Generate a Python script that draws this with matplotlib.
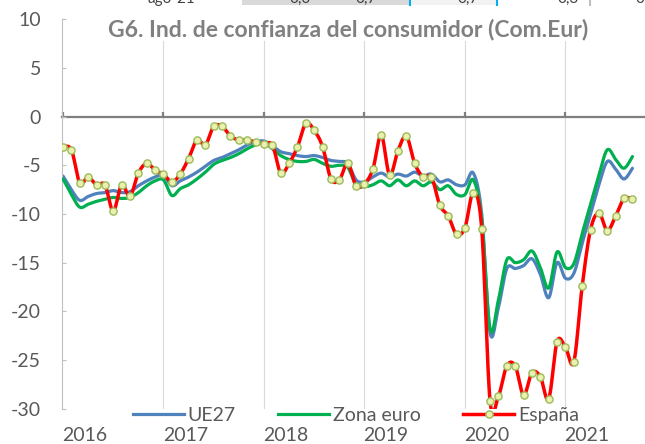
import numpy as np
import matplotlib.pyplot as plt
import matplotlib.transforms as mtransforms
from matplotlib.lines import Line2D
from matplotlib.patches import Rectangle

# monthly data, ene-2016 .. sep-2021
ue27 = [-6.1, -7.5, -8.6, -8.2, -7.9, -7.8, -7.6, -7.8, -7.7, -7.1, -6.6, -6.2,
        -6.0, -7.1, -6.6, -6.2, -5.7, -5.1, -4.5, -4.2, -3.8, -3.4, -2.9, -2.6,
        -2.5, -3.0, -3.6, -3.8, -4.0, -4.1, -4.0, -4.2, -4.5, -4.6, -4.8, -6.5,
        -6.7, -6.2, -5.8, -6.2, -5.9, -6.1, -5.7, -6.1, -5.9, -6.7, -6.5, -7.0,
        -7.0, -5.8, -10.0, -22.2, -19.6, -15.6, -15.6, -15.3, -14.6, -16.2, -18.6, -15.0,
        -16.6, -16.1, -13.0, -10.0, -7.0, -4.6, -5.4, -6.4, -5.3]
zona_euro = [-6.4, -8.0, -9.3, -9.0, -8.7, -8.5, -8.3, -8.4, -8.3, -7.8, -7.1, -6.6,
             -6.5, -8.1, -7.4, -7.0, -6.4, -5.7, -4.9, -4.5, -4.2, -3.8, -3.3, -2.9,
             -2.7, -3.3, -4.0, -4.4, -4.6, -4.6, -4.4, -4.8, -5.1, -5.0, -5.2, -7.0,
             -7.2, -7.0, -6.6, -7.1, -6.5, -7.1, -6.6, -7.1, -6.7, -7.5, -7.1, -8.0,
             -8.0, -6.5, -10.6, -21.8, -18.8, -14.7, -15.0, -14.7, -13.8, -15.5, -17.6, -13.9,
             -15.5, -15.1, -12.0, -9.0, -6.0, -3.4, -4.4, -5.3, -4.1]
espana = [-3.1, -3.4, -6.8, -6.2, -7.0, -7.0, -9.7, -7.0, -8.2, -5.8, -4.8, -5.5,
          -5.9, -6.7, -5.9, -4.3, -2.4, -2.9, -1.0, -1.0, -2.0, -2.4, -2.4, -2.6,
          -2.8, -2.9, -5.8, -4.8, -3.1, -0.7, -1.4, -3.1, -6.4, -6.5, -4.8, -7.1,
          -6.9, -5.4, -1.9, -6.0, -3.5, -2.0, -4.8, -6.2, -6.2, -9.1, -10.2, -12.1,
          -11.4, -7.8, -11.5, -29.2, -28.7, -25.6, -25.6, -28.6, -26.3, -26.7, -29.0, -23.1,
          -23.7, -25.2, -17.4, -11.6, -9.9, -11.7, -10.2, -8.4, -8.5]
years = ['2016', '2017', '2018', '2019', '2020', '2021']
series_names = ['UE27', 'Zona euro', 'España']
title = 'G6. Ind. de confianza del consumidor (Com.Eur)'

plt.rcParams['font.family'] = ['Lato', 'DejaVu Sans']
plt.rcParams['axes.unicode_minus'] = False

grey_txt = '#595959'


# smooth line like the spreadsheet one (bezier through every point)
def smooth(vals, n=16):
    y = np.asarray(vals, float)
    x = np.arange(len(y), dtype=float)
    px = np.concatenate([[x[0]], x, [x[-1]]])
    py = np.concatenate([[y[0]], y, [y[-1]]])
    t = np.linspace(0, 1, n, endpoint=False)[:, None]
    xs, ys = [], []
    for i in range(len(y) - 1):
        p = np.column_stack([px[i:i + 4], py[i:i + 4]])
        c1 = p[1] + (p[2] - p[0]) / 6
        c2 = p[2] - (p[3] - p[1]) / 6
        b = ((1 - t) ** 3) * p[1] + 3 * ((1 - t) ** 2) * t * c1 \
            + 3 * (1 - t) * t ** 2 * c2 + t ** 3 * p[2]
        xs.append(b[:, 0])
        ys.append(b[:, 1])
    xs.append([x[-1]])
    ys.append([y[-1]])
    return np.concatenate(xs), np.concatenate(ys)


fig = plt.figure(figsize=(6.45, 4.44), dpi=100)
ax = fig.add_axes([62 / 645, 35.3 / 444, 583 / 645, 389.4 / 444])

# vertical year gridlines
for k in range(1, len(years)):
    ax.axvline(12 * k, ymin=0, ymax=0.944, color='#D9D9D9', lw=0.8, zorder=0)

colors = ['#4F81BD', '#00B050', '#FF0000']
for vals, c, lw, z in zip([ue27, zona_euro, espana], colors, [2.3, 2.3, 2.5], [2, 3, 4]):
    sx, sy = smooth(vals)
    ax.plot(sx, sy, color=c, lw=lw, solid_capstyle='round', zorder=z)

mk = dict(marker='o', ms=5.2, mfc='#EBF0B0', mec='#9BBB59', mew=1.0)
ax.plot(np.arange(len(espana)), espana, ls='none', zorder=5, **mk)

ax.set_xlim(-0.12, 69.5)
ax.set_ylim(-30, 10)
ax.set_yticks(np.arange(-30, 11, 5))
ax.set_yticklabels([str(v) for v in range(-30, 11, 5)])
ax.tick_params(axis='y', direction='in', length=3, width=0.8, color='#BFBFBF',
               labelsize=14, labelcolor=grey_txt, pad=15)

ax.set_xticks(np.arange(0, 72, 12))
ax.tick_params(axis='x', direction='in', length=3.5, width=1.6, color='#7F7F7F',
               labelbottom=False)

ax.spines['top'].set_visible(False)
ax.spines['right'].set_visible(False)
ax.spines['left'].set_color('#BFBFBF')
ax.spines['left'].set_linewidth(0.8)
ax.spines['bottom'].set_position(('data', 0))
ax.spines['bottom'].set_color('#7F7F7F')
ax.spines['bottom'].set_linewidth(1.6)
ax.spines['bottom'].set_zorder(1)

# year labels under the plot
trans = mtransforms.blended_transform_factory(ax.transData, fig.transFigure)
for k, yr in enumerate(years):
    ax.text(12 * k - 0.1, 9 / 444, yr, transform=trans, ha='left', va='center',
            fontsize=14, color=grey_txt)

ax.text(348 / 645, 1 - 30 / 444, title, transform=fig.transFigure, ha='center',
        va='center', fontsize=16.5, fontweight='bold', color='#808080')

handles = [Line2D([], [], color=colors[0], lw=2.3),
           Line2D([], [], color=colors[1], lw=2.3),
           Line2D([], [], color=colors[2], lw=2.5, **mk, markevery=[1])]
handles[2].set_data([0, 1, 2], [0, 0, 0])
leg = fig.legend(handles, series_names, ncol=3, loc='center left',
                 bbox_to_anchor=(133 / 645, 29 / 444), frameon=False, fontsize=14,
                 handlelength=2.6, handletextpad=0.2, columnspacing=2.2,
                 borderpad=0, borderaxespad=0)
for t in leg.get_texts():
    t.set_color(grey_txt)

# bit of the table above the chart, cut off by the image edge
top = 1 - 5 / 444
fig.add_artist(Rectangle((242 / 645, top), 168 / 645, 5 / 444, transform=fig.transFigure,
                         color='#D9D9D9', lw=0))
fig.add_artist(Rectangle((412 / 645, top), 85 / 645, 5 / 444, transform=fig.transFigure,
                         color='#F2F2F2', lw=0))
for xp, c in [(410, '#00B0F0'), (497, '#00B0F0'), (590, '#BFBFBF')]:
    fig.add_artist(Line2D([xp / 645, xp / 645], [top, 1], transform=fig.transFigure,
                          color=c, lw=1.5))
for xp, s in [(148, 'ago-21'), (290, '0,0'), (355, '0,7'), (458, '0,7'), (558, '0,3'), (636, '0')]:
    fig.text(xp / 645, 1 - 3 / 444, s, ha='left', va='baseline', fontsize=11, color='#404040')

fig.savefig('out.png', dpi=100)
